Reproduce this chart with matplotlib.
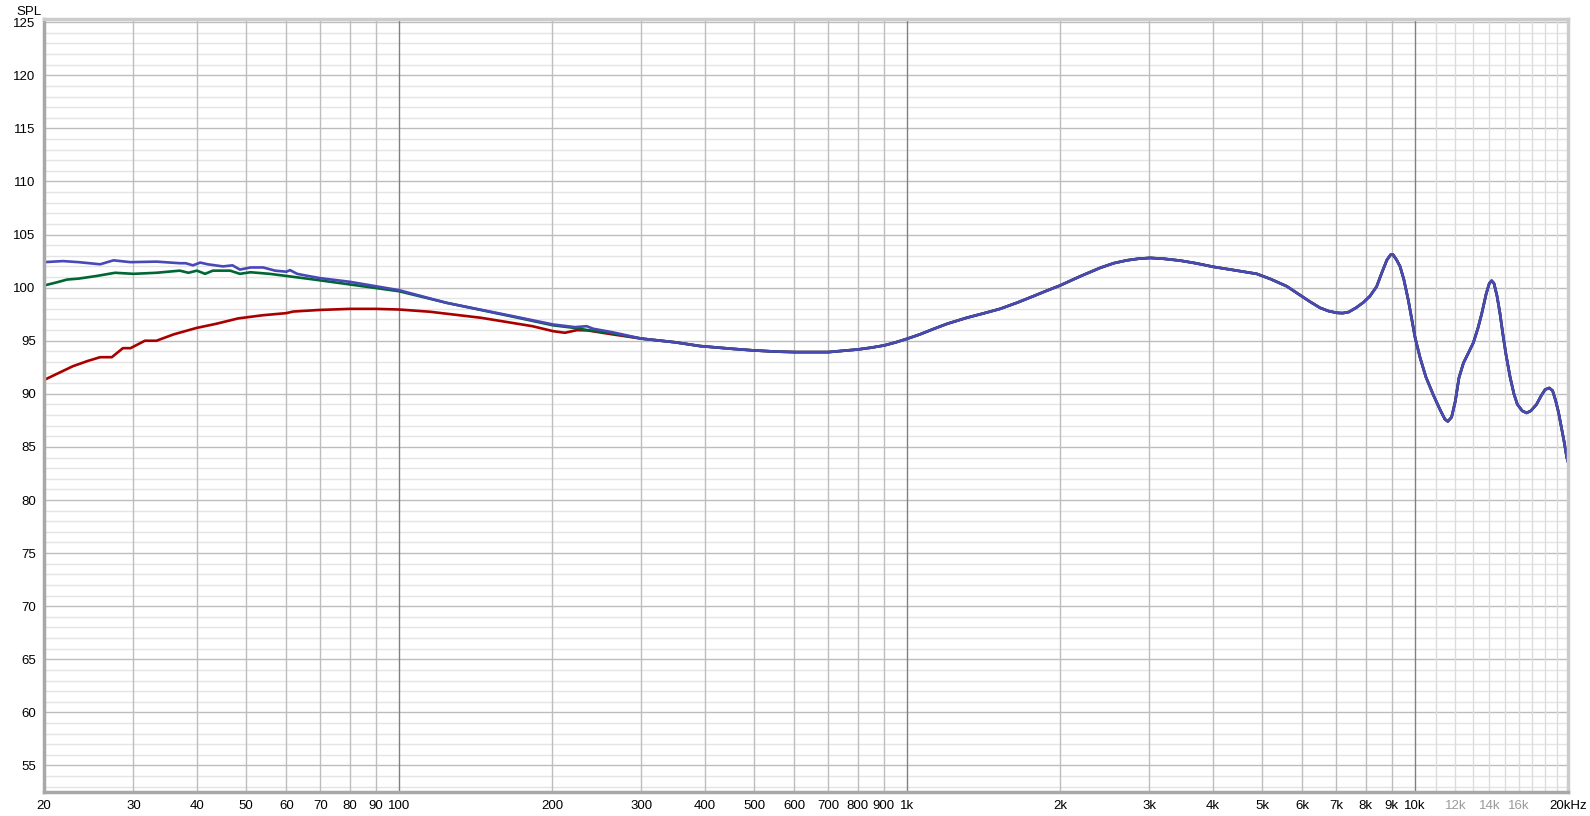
import numpy as np
import matplotlib
matplotlib.use("Agg")
import matplotlib.pyplot as plt

plt.rcParams['font.family'] = ['Liberation Sans', 'DejaVu Sans']

# shared part of the response (all three curves overlap above ~300 Hz)
hf_freq = [300, 350, 391, 450, 498, 550, 601, 700, 801, 850, 902, 950, 1001,
           1060, 1126, 1200, 1310, 1420, 1524, 1650, 1773, 1880, 2000, 2200,
           2398, 2550, 2706, 2850, 3008, 3200, 3445, 3700, 4007, 4400, 4879,
           5200, 5589, 5936, 6200, 6499, 6750, 7008, 7200, 7400, 7650, 7908,
           8150, 8400, 8600, 8800, 8950, 9050, 9200, 9340, 9500, 9700, 10000,
           10230, 10500, 10860, 11200, 11450, 11600, 11800, 12000, 12200, 12450,
           12750, 13020, 13300, 13520, 13800, 14000, 14150, 14300, 14500, 14690,
           14900, 15100, 15380, 15650, 15900, 16250, 16580, 16900, 17340, 17700,
           18030, 18370, 18650, 18900, 19150, 19400, 19650, 19890, 20000]
hf_spl = [95.2, 94.85, 94.5, 94.25, 94.09, 93.98, 93.93, 93.93, 94.18, 94.35,
          94.56, 94.85, 95.19, 95.6, 96.1, 96.6, 97.16, 97.6, 98.0, 98.6, 99.2,
          99.7, 100.2, 101.1, 101.86, 102.3, 102.57, 102.72, 102.8, 102.72,
          102.55, 102.3, 101.96, 101.65, 101.3, 100.8, 100.13, 99.3, 98.7, 98.1,
          97.8, 97.63, 97.6, 97.7, 98.1, 98.6, 99.2, 100.1, 101.4, 102.6, 103.1,
          103.1, 102.6, 102.0, 100.8, 98.8, 95.3, 93.4, 91.6, 89.9, 88.5, 87.6,
          87.4, 87.8, 89.3, 91.5, 92.9, 93.9, 94.8, 96.2, 97.5, 99.4, 100.4,
          100.65, 100.4, 99.2, 97.6, 95.5, 93.7, 91.6, 90.0, 89.0, 88.4, 88.2,
          88.4, 89.0, 89.8, 90.4, 90.55, 90.3, 89.4, 88.3, 86.9, 85.5, 84.0, 83.6]

red_freq = [20, 22.8, 24.4, 25.8, 27.2, 28.6, 29.6, 31.6, 33.3, 36.0, 39.9,
            43.7, 48.2, 53.9, 60, 61.9, 69.8, 80, 90, 100, 115, 145, 183, 201,
            212, 224, 235, 263]
red_spl = [91.3, 92.6, 93.1, 93.45, 93.45, 94.3, 94.3, 95.0, 95.0, 95.6, 96.2,
           96.6, 97.1, 97.4, 97.6, 97.75, 97.9, 98.0, 98.0, 97.94, 97.73, 97.16,
           96.37, 95.9, 95.75, 96.0, 95.97, 95.6]

green_freq = [20, 21.2, 22.2, 23.4, 25.4, 27.6, 30, 33.3, 37, 38.5, 40, 41.5,
              43, 46.5, 48.6, 51, 55.6, 60, 68.1, 80, 100, 124, 168, 201, 222,
              235, 263]
green_spl = [100.2, 100.5, 100.76, 100.85, 101.1, 101.4, 101.3, 101.4, 101.6,
             101.4, 101.6, 101.3, 101.6, 101.6, 101.3, 101.45, 101.3, 101.1,
             100.76, 100.3, 99.66, 98.57, 97.25, 96.45, 96.2, 96.0, 95.7]

blue_freq = [20, 21.8, 23.4, 25.8, 27.4, 29.6, 33.3, 37, 38, 39.3, 40.6, 42,
             45, 47, 48.6, 51, 54, 57, 60, 61, 63, 66.2, 69.8, 80, 91.7, 100,
             124, 168, 201, 222, 234, 241, 263]
blue_spl = [102.4, 102.5, 102.4, 102.2, 102.57, 102.4, 102.45, 102.3, 102.3,
            102.1, 102.36, 102.2, 102.0, 102.1, 101.7, 101.9, 101.9, 101.6,
            101.5, 101.65, 101.3, 101.1, 100.9, 100.55, 100.07, 99.76, 98.57,
            97.3, 96.53, 96.28, 96.37, 96.13, 95.8]

y_ticks = list(range(55, 126, 5))
x_ticks = [20, 30, 40, 50, 60, 70, 80, 90, 100, 200, 300, 400, 500, 600, 700,
           800, 900, 1000, 2000, 3000, 4000, 5000, 6000, 7000, 8000, 9000,
           10000, 12000, 14000, 16000, 20000]
x_labels = ['20', '30', '40', '50', '60', '70', '80', '90', '100', '200', '300',
            '400', '500', '600', '700', '800', '900', '1k', '2k', '3k', '4k',
            '5k', '6k', '7k', '8k', '9k', '10k', '12k', '14k', '16k', '20kHz']
faint_labels = ['12k', '14k', '16k']

fig = plt.figure(figsize=(15.9, 8.16), dpi=100)
ax = fig.add_axes([44 / 1590, 24 / 816, 1524 / 1590, 773 / 816])
ax.set_xscale('log')
ax.set_xlim(20, 20000)
ax.set_ylim(52.5, 125.3)

# grid
for v in range(53, 126):
    c = '#bdbdbd' if v % 5 == 0 else '#e4e4e4'
    ax.axhline(v, color=c, lw=1, zorder=0)
for dec in [10, 100, 1000]:
    for m in range(2, 10):
        if dec * m > 20:
            ax.axvline(dec * m, color='#bdbdbd', lw=1, zorder=0)
    if dec > 10:
        ax.axvline(dec, color='#808080', lw=1, zorder=0)
ax.axvline(10000, color='#808080', lw=1, zorder=0)
for k in range(11, 20):
    ax.axvline(k * 1000, color='#dcdcdc', lw=1, zorder=0)

ax.plot(np.concatenate([red_freq, hf_freq]), np.concatenate([red_spl, hf_spl]),
        color='#a80000', lw=1.9)
ax.plot(np.concatenate([green_freq, hf_freq]), np.concatenate([green_spl, hf_spl]),
        color='#006633', lw=1.9)
ax.plot(np.concatenate([blue_freq, hf_freq]), np.concatenate([blue_spl, hf_spl]),
        color='#4848b8', lw=1.9)

ax.set_yticks(y_ticks)
ax.set_yticklabels([str(v) for v in y_ticks])
ax.set_xticks(x_ticks)
ax.set_xticklabels(x_labels)
ax.xaxis.set_minor_locator(matplotlib.ticker.NullLocator())
ax.tick_params(length=0, labelsize=9.5, pad=6)
for lab in ax.get_xticklabels():
    if lab.get_text() in faint_labels:
        lab.set_color('#9a9a9a')

for s in ['left', 'bottom']:
    ax.spines[s].set_color('#a8a8a8')
    ax.spines[s].set_linewidth(2.5)
for s in ['top', 'right']:
    ax.spines[s].set_color('#cccccc')
    ax.spines[s].set_linewidth(2.5)

fig.text(16 / 1590, 1 - 12 / 816, 'SPL', fontsize=9.5, va='center', ha='left')

fig.savefig('out.png', dpi=100)
